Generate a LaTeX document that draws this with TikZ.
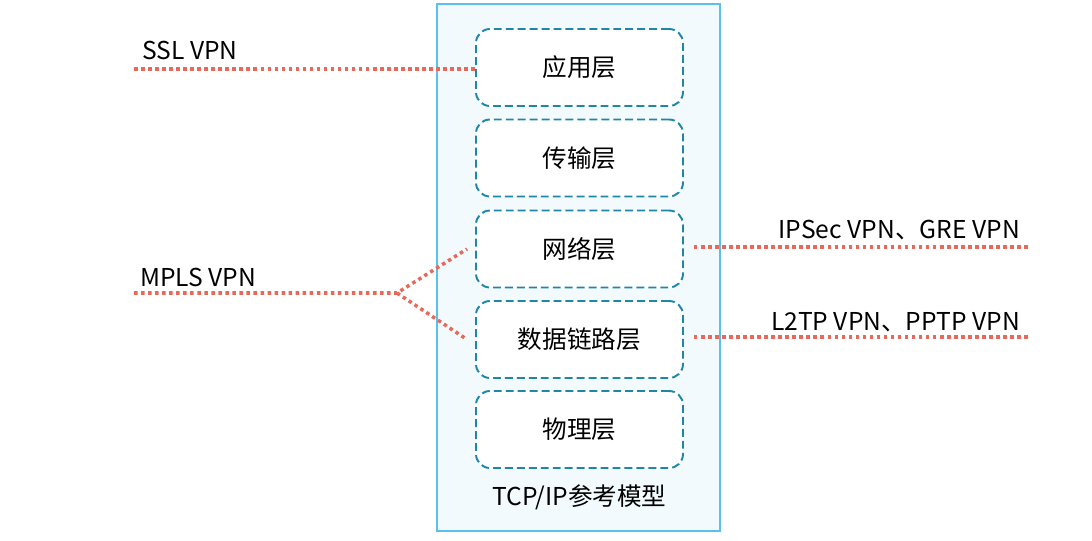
\documentclass[tikz,border=0pt]{standalone}
\usepackage{fontspec}
\setmainfont{Noto Sans CJK SC}
\usepackage{tikz}
\usetikzlibrary{positioning,calc}
\definecolor{outerblue}{HTML}{5BC0EB}
\definecolor{outerfill}{HTML}{F2FAFD}
\definecolor{layerblue}{HTML}{1F86A8}
\definecolor{vpnred}{HTML}{E8685A}

\begin{document}
\begin{tikzpicture}[
				scale = 1,
				every node/.style = {font=\fontsize{14}{16}\selectfont},
				layer/.style = {draw=layerblue,fill=white,line width=1.1pt,dash pattern=on 4.5pt off 2.3pt,rounded corners=0.28cm,minimum width=4.14cm,minimum height=1.54cm},
				vpnline/.style = {draw=vpnred,line width=2pt,dash pattern=on 2pt off 2pt}
				]
				\useasboundingbox (0,0) rectangle (21.84,-10.82);
				\draw [outerblue,fill=outerfill,line width=1.2pt] (8.74,-0.08) rectangle (14.4,-10.62);
				
				\node [layer] (app) at (11.59,-1.35) {应用层};
				\node [layer] (trans) at (11.59,-3.16) {传输层};
				\node [layer] (net) at (11.59,-4.98) {网络层};
				\node [layer] (link) at (11.59,-6.79) {数据链路层};
				\node [layer] (phy) at (11.59,-8.59) {物理层};
				\node (model) at (11.59,-9.94) {TCP/IP参考模型};
				
				\node [anchor=west] (ssl) at (2.72,-1.0) {SSL VPN};
				\node [anchor=west] (mpls) at (2.68,-5.54) {MPLS VPN};
				\node [anchor=east] (ipsec) at (20.52,-4.6) {IPSec VPN、GRE VPN};
				\node [anchor=east] (l2tp) at (20.52,-6.44) {L2TP VPN、PPTP VPN};
				
				\coordinate (sslend) at (2.68,-1.38);
				\coordinate (mplsend) at (2.68,-5.86);
				\coordinate (fork) at (7.94,-5.86);
				\coordinate (ipsecend) at (20.6,-4.94);
				\coordinate (l2tpend) at (20.6,-6.74);
				
				\draw [vpnline] (sslend) -- (sslend -| app.west);
				\draw [vpnline] (mplsend) -- (fork) -- ($(net.west)+(-0.16,0)$);
				\draw [vpnline] (fork) -- ($(link.west)+(-0.16,0)$);
				\draw [vpnline] ($(ipsecend -| net.east)+(0.2,0)$) -- (ipsecend);
				\draw [vpnline] ($(l2tpend -| link.east)+(0.2,0)$) -- (l2tpend);
			\end{tikzpicture}
\end{document}
